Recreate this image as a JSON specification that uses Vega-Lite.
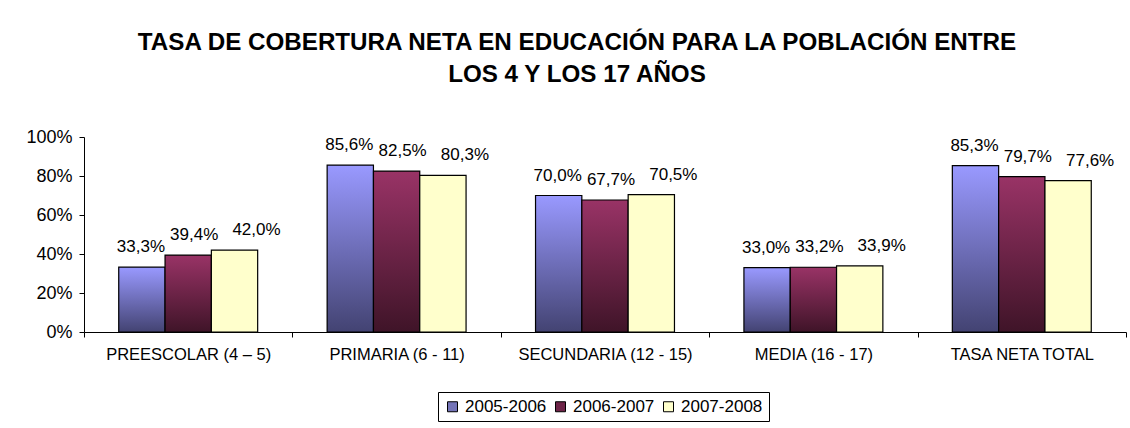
{
  "$schema": "https://vega.github.io/schema/vega-lite/v6.json",
  "autosize": "none",
  "width": 1042,
  "height": 195,
  "padding": {"left": 84, "top": 137, "right": 4, "bottom": 96},
  "background": "white",
  "config": {
    "font": "Liberation Sans",
    "view": {"stroke": null},
    "text": {"baseline": "alphabetic", "dy": -15, "font": "Liberation Sans", "fontSize": 17, "color": "black"},
    "locale": {"number": {"decimal": ",", "thousands": ".", "grouping": [3], "currency": ["$", ""]}}
  },
  "title": {
    "text": ["TASA DE COBERTURA NETA EN EDUCACIÓN PARA LA POBLACIÓN ENTRE", "LOS 4 Y LOS 17 AÑOS"],
    "font": "Liberation Sans",
    "fontSize": 24.2,
    "fontWeight": "bold",
    "color": "black",
    "lineHeight": 32,
    "anchor": "middle",
    "dx": -28,
    "offset": 41
  },
  "data": {
    "values": [
      {"nivel": "PREESCOLAR (4 – 5)", "periodo": "2005-2006", "tasa": 0.333},
      {"nivel": "PREESCOLAR (4 – 5)", "periodo": "2006-2007", "tasa": 0.394},
      {"nivel": "PREESCOLAR (4 – 5)", "periodo": "2007-2008", "tasa": 0.42},
      {"nivel": "PRIMARIA (6 - 11)", "periodo": "2005-2006", "tasa": 0.856},
      {"nivel": "PRIMARIA (6 - 11)", "periodo": "2006-2007", "tasa": 0.825},
      {"nivel": "PRIMARIA (6 - 11)", "periodo": "2007-2008", "tasa": 0.803},
      {"nivel": "SECUNDARIA (12 - 15)", "periodo": "2005-2006", "tasa": 0.70},
      {"nivel": "SECUNDARIA (12 - 15)", "periodo": "2006-2007", "tasa": 0.677},
      {"nivel": "SECUNDARIA (12 - 15)", "periodo": "2007-2008", "tasa": 0.705},
      {"nivel": "MEDIA (16 - 17)", "periodo": "2005-2006", "tasa": 0.33},
      {"nivel": "MEDIA (16 - 17)", "periodo": "2006-2007", "tasa": 0.332},
      {"nivel": "MEDIA (16 - 17)", "periodo": "2007-2008", "tasa": 0.339},
      {"nivel": "TASA NETA TOTAL", "periodo": "2005-2006", "tasa": 0.853},
      {"nivel": "TASA NETA TOTAL", "periodo": "2006-2007", "tasa": 0.797},
      {"nivel": "TASA NETA TOTAL", "periodo": "2007-2008", "tasa": 0.776}
    ]
  },
  "encoding": {
    "x": {
      "field": "nivel",
      "type": "nominal",
      "sort": null,
      "title": null,
      "scale": {"paddingInner": 0, "paddingOuter": 0},
      "axis": {
        "labelAngle": 0,
        "labelFont": "Liberation Sans",
        "labelFontSize": 16.5,
        "labelColor": "black",
        "labelPadding": 9,
        "domainColor": "black",
        "tickColor": "black",
        "tickSize": 5,
        "tickBand": "extent",
        "grid": false
      }
    },
    "xOffset": {
      "field": "periodo",
      "type": "nominal",
      "scale": {"paddingInner": 0, "paddingOuter": 0.75}
    },
    "y": {
      "field": "tasa",
      "type": "quantitative",
      "title": null,
      "scale": {"domain": [0, 1]},
      "axis": {
        "values": [0, 0.2, 0.4, 0.6, 0.8, 1],
        "format": ".0%",
        "grid": false,
        "labelFont": "Liberation Sans",
        "labelFontSize": 18,
        "labelColor": "black",
        "labelPadding": 7,
        "domainColor": "black",
        "tickColor": "black",
        "tickSize": 5
      }
    }
  },
  "layer": [
    {
      "mark": {"type": "bar"},
      "encoding": {
        "color": {
          "field": "periodo",
          "type": "nominal",
          "title": null,
          "scale": {
            "domain": ["2005-2006", "2006-2007", "2007-2008"],
            "range": ["#7474b8", "#6e2448", "#ffffcc"]
          },
          "legend": {
            "orient": "none",
            "legendX": 354,
            "legendY": 255,
            "direction": "horizontal",
            "strokeColor": "black",
            "padding": 6,
            "labelFont": "Liberation Sans",
            "labelFontSize": 17,
            "labelColor": "black",
            "symbolType": "square",
            "symbolSize": 100,
            "symbolStrokeColor": "black",
            "symbolStrokeWidth": 1,
            "symbolOpacity": 1,
            "columnPadding": 5,
            "labelOffset": 4
          }
        }
      }
    },
    {
      "mark": {"type": "bar", "stroke": "black", "strokeWidth": 1.2},
      "encoding": {
        "fill": {
          "condition": [
            {"test": "datum.periodo === '2005-2006'", "value": {"gradient": "linear", "x1": 0, "y1": 0, "x2": 0, "y2": 1, "stops": [{"offset": 0, "color": "#9999ff"}, {"offset": 1, "color": "#434372"}]}},
            {"test": "datum.periodo === '2006-2007'", "value": {"gradient": "linear", "x1": 0, "y1": 0, "x2": 0, "y2": 1, "stops": [{"offset": 0, "color": "#993366"}, {"offset": 1, "color": "#3f1428"}]}}
          ],
          "value": "#ffffcc"
        }
      }
    },
    {
      "transform": [{"filter": "datum.periodo === '2005-2006'"}],
      "mark": {"type": "text", "dx": -1},
      "encoding": {"text": {"field": "tasa", "type": "quantitative", "format": ".1%"}}
    },
    {
      "transform": [{"filter": "datum.periodo === '2006-2007'"}],
      "mark": {"type": "text", "dx": 6},
      "encoding": {"text": {"field": "tasa", "type": "quantitative", "format": ".1%"}}
    },
    {
      "transform": [{"filter": "datum.periodo === '2007-2008'"}],
      "mark": {"type": "text", "dx": 22},
      "encoding": {"text": {"field": "tasa", "type": "quantitative", "format": ".1%"}}
    }
  ]
}
